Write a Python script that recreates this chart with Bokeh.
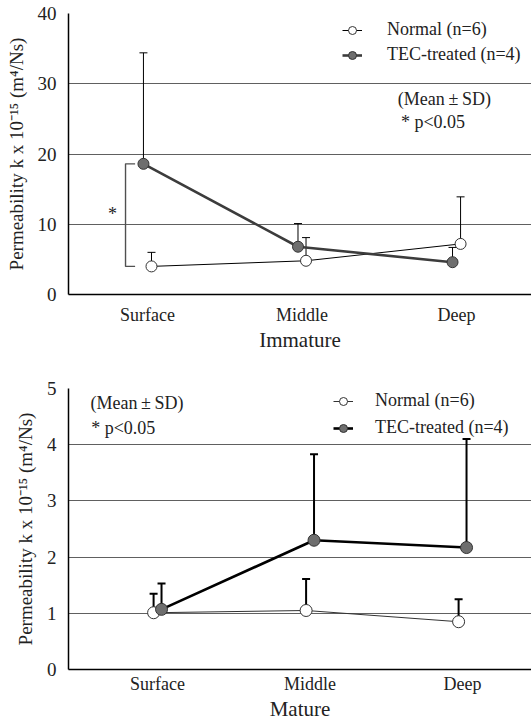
from bokeh.plotting import figure
from bokeh.models import (ColumnDataSource, Whisker, Legend, LegendItem, Label,
                          FixedTicker, Range1d, TeeHead)
from bokeh.layouts import column
from bokeh.embed import file_html
from bokeh.resources import INLINE
from bokeh.core.properties import value

# ---------------- data ----------------
categories = ["Surface", "Middle", "Deep"]

# Immature
imm_normal_mean = [4.0, 4.8, 7.2]
imm_normal_sd = [2.0, 3.3, 6.7]
imm_tec_mean = [18.6, 6.8, 4.6]
imm_tec_sd = [15.8, 3.3, 2.1]

# Mature
mat_normal_mean = [1.01, 1.05, 0.85]
mat_normal_sd = [0.34, 0.56, 0.40]
mat_tec_mean = [1.07, 2.30, 2.17]
mat_tec_sd = [0.46, 1.53, 1.93]

imm_yticks = [0, 10, 20, 30, 40]
mat_yticks = [0, 1, 2, 3, 4, 5]

FONT = "Liberation Serif"
YLABEL = "Permeability k x 10\u207b\u00b9\u2075 (m\u2074/Ns)"
MEANSD = "(Mean\u2009\u00b1\u2009SD)"
W = 531


def base_fig(height, xr, yr, yticks, xlabel, border_top, lab_standoff):
    p = figure(width=W, height=height, output_backend="svg", toolbar_location=None,
               x_range=xr, y_range=yr, min_border_left=68, min_border_right=0,
               min_border_top=border_top, min_border_bottom=0)
    p.outline_line_color = None
    p.background_fill_color = "white"
    p.border_fill_color = "white"
    p.xgrid.visible = False
    p.ygrid.ticker = FixedTicker(ticks=yticks[1:])
    p.ygrid.grid_line_color = "#606060"
    p.ygrid.grid_line_width = 1.2
    p.yaxis.ticker = FixedTicker(ticks=yticks)
    p.xaxis.ticker = FixedTicker(ticks=list(range(len(categories))))
    p.xaxis.major_label_overrides = {i: c for i, c in enumerate(categories)}
    for ax in (p.xaxis[0], p.yaxis[0]):
        ax.major_tick_line_color = None
        ax.minor_tick_line_color = None
        ax.major_tick_in = 0
        ax.major_tick_out = 0
        ax.axis_line_color = "black"
        ax.axis_line_width = 1.5
        ax.major_label_text_font = FONT
        ax.major_label_text_color = "#222222"
        ax.axis_label_text_font = FONT
        ax.axis_label_text_font_style = "normal"
        ax.axis_label_text_color = "#222222"
    p.xaxis.major_label_text_font_size = "18px"
    p.yaxis.major_label_text_font_size = "19px"
    p.xaxis.major_label_standoff = lab_standoff
    p.yaxis.major_label_standoff = 12
    p.xaxis.axis_label = xlabel
    p.xaxis.axis_label_text_font_size = "21px"
    p.xaxis.axis_label_standoff = 0
    p.yaxis.axis_label = YLABEL
    p.yaxis.axis_label_text_font_size = "19px"
    p.yaxis.axis_label_standoff = 8
    return p


def add_series(p, mean, sd, xoff, fill, line_color, lw, whisk_w, size):
    xs = [i + xoff for i in range(len(categories))]
    src = ColumnDataSource(dict(x=xs, y=mean, up=[m + s for m, s in zip(mean, sd)]))
    w = Whisker(source=src, base="x", upper="up", lower="y", dimension="height",
                line_color="black", line_width=whisk_w,
                upper_head=TeeHead(size=8, line_color="black", line_width=whisk_w),
                lower_head=None)
    p.add_layout(w)
    ln = p.line("x", "y", source=src, line_color=line_color, line_width=lw)
    sc = p.scatter("x", "y", source=src, size=size, fill_color=fill,
                   line_color="#333333", line_width=1)
    return ln, sc


def add_legend(p, items, loc, spacing, standoff):
    leg = Legend(items=items, location=loc, border_line_color=None,
                 background_fill_alpha=0, padding=0, margin=0, spacing=spacing,
                 glyph_width=20, glyph_height=20, label_height=20,
                 label_standoff=standoff,
                 label_text_font=FONT, label_text_font_size="18px",
                 label_text_color="#222222")
    p.add_layout(leg)


def note(p, x, y, text):
    p.add_layout(Label(x=x, y=y, text=text, text_font=FONT, text_font_size="18px",
                       text_baseline="middle", text_color="#222222"))


# ---------------- Immature ----------------
p1 = base_fig(354, Range1d(-0.511, 2.485), Range1d(0, 40), imm_yticks,
              "Immature", 13, 10)
l_n, s_n = add_series(p1, imm_normal_mean, imm_normal_sd, 0.026, "white",
                      "black", 1, 1, 11)
l_t, s_t = add_series(p1, imm_tec_mean, imm_tec_sd, -0.026, "#6e6e6e",
                      "#3c3c3c", 2.6, 1, 11)
# significance bracket
bx = [-0.08, -0.142, -0.142, -0.08]
by = [imm_tec_mean[0], imm_tec_mean[0], imm_normal_mean[0], imm_normal_mean[0]]
p1.line(bx, by, line_color="#505050", line_width=1.4)
p1.text(x=[-0.227], y=[(imm_tec_mean[0] + imm_normal_mean[0]) / 2 + 0.2], text=["*"],
        text_font=value(FONT), text_font_size="18px", text_align="center",
        text_baseline="middle", text_color="#222222")
note(p1, 1.62, 27.8, MEANSD)
note(p1, 1.64, 24.6, "* p<0.05")
add_legend(p1, [LegendItem(label="Normal (n=6)", renderers=[l_n, s_n]),
                LegendItem(label="TEC-treated (n=4)", renderers=[l_t, s_t])],
           (274, 229), 4, 25)

# ---------------- Mature ----------------
p2 = base_fig(369, Range1d(-0.584, 2.452), Range1d(0, 5), mat_yticks,
              "Mature", 34, 4)
m_n, ms_n = add_series(p2, mat_normal_mean, mat_normal_sd, -0.026, "white",
                       "#333333", 1, 2, 12)
m_t, ms_t = add_series(p2, mat_tec_mean, mat_tec_sd, 0.026, "#6e6e6e",
                       "black", 2.6, 2, 12)
note(p2, -0.44, 4.74, MEANSD)
note(p2, -0.435, 4.29, "* p<0.05")
add_legend(p2, [LegendItem(label="Normal (n=6)", renderers=[m_n, ms_n]),
                LegendItem(label="TEC-treated (n=4)", renderers=[m_t, ms_t])],
           (265, 231), 6, 22)

layout = column(p1, p2, spacing=0)
open("out.html", "w").write(file_html(layout, INLINE))
